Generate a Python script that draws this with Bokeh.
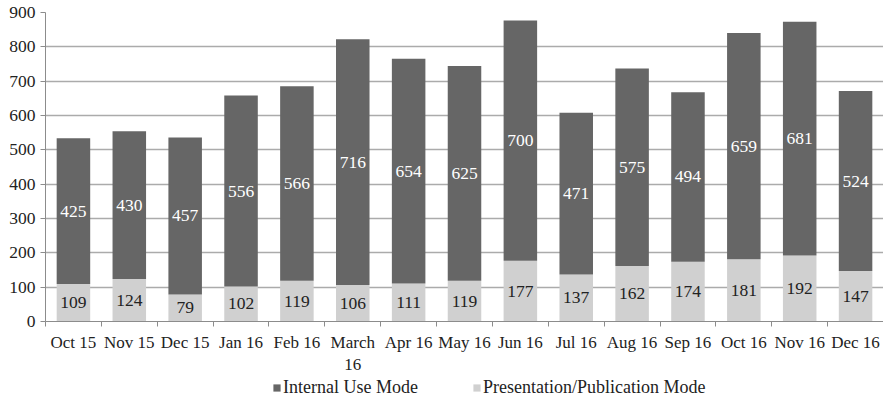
from bokeh.plotting import figure
from bokeh.layouts import column
from bokeh.models import ColumnDataSource, FixedTicker, Legend, LegendItem, LabelSet, Range1d
from bokeh.embed import file_html
from bokeh.resources import INLINE

categories = ["Oct 15", "Nov 15", "Dec 15", "Jan 16", "Feb 16", "March\n16", "Apr 16",
              "May 16", "Jun 16", "Jul 16", "Aug 16", "Sep 16", "Oct 16", "Nov 16", "Dec 16"]
presentation = [109, 124, 79, 102, 119, 106, 111, 119, 177, 137, 162, 174, 181, 192, 147]
internal = [425, 430, 457, 556, 566, 716, 654, 625, 700, 471, 575, 494, 659, 681, 524]
y_ticks = list(range(0, 1000, 100))
series_names = ["Internal Use Mode", "Presentation/Publication Mode"]

FONT = "Liberation Serif"
DARK = "#666666"
LIGHT = "#d0d0d0"

xs = list(range(len(categories)))
tops = [a + b for a, b in zip(presentation, internal)]
src = ColumnDataSource(dict(
    x=xs,
    pres=presentation,
    inter=internal,
    tops=tops,
    pres_mid=[v / 2 for v in presentation],
    inter_mid=[a + b / 2 for a, b in zip(presentation, internal)],
    pres_lbl=[str(v) for v in presentation],
    inter_lbl=[str(v) for v in internal],
))

p = figure(width=883, height=377, output_backend="svg", toolbar_location=None,
           x_range=Range1d(-0.5, len(categories) - 0.5), y_range=Range1d(0, 900),
           min_border_left=45, min_border_right=0, min_border_top=12, min_border_bottom=56)
p.outline_line_color = None
p.background_fill_color = "white"

r1 = p.vbar(x="x", bottom=0, top="pres", width=0.6, source=src, fill_color=LIGHT, line_color=None)
r2 = p.vbar(x="x", bottom="pres", top="tops", width=0.6, source=src, fill_color=DARK, line_color=None)

p.add_layout(LabelSet(x="x", y="inter_mid", text="inter_lbl", source=src, text_align="center",
                      text_baseline="middle", text_color="white", text_font=FONT,
                      text_font_size="17.5px"))
p.add_layout(LabelSet(x="x", y="pres_mid", text="pres_lbl", source=src, text_align="center",
                      text_baseline="middle", text_color="#222222", text_font=FONT,
                      text_font_size="17.5px"))

# axes
p.xaxis.ticker = FixedTicker(ticks=xs, minor_ticks=[i - 0.5 for i in range(len(categories) + 1)])
p.xaxis.major_label_overrides = {i: c for i, c in enumerate(categories)}
p.xaxis.major_tick_line_color = None
p.xaxis.minor_tick_line_color = "#8c8c8c"
p.xaxis.minor_tick_out = 5
p.xaxis.minor_tick_in = 0
p.xaxis.axis_line_color = "#8c8c8c"
p.xaxis.major_label_text_font = FONT
p.xaxis.major_label_text_font_size = "17px"
p.xaxis.major_label_text_color = "#222222"
p.xaxis.major_label_standoff = 5

p.yaxis.ticker = FixedTicker(ticks=y_ticks, minor_ticks=[])
p.yaxis.major_tick_line_color = "#8c8c8c"
p.yaxis.major_tick_out = 5
p.yaxis.major_tick_in = 0
p.yaxis.axis_line_color = "#8c8c8c"
p.yaxis.major_label_text_font = FONT
p.yaxis.major_label_text_font_size = "17.5px"
p.yaxis.major_label_text_color = "#222222"
p.yaxis.major_label_standoff = 5

p.xgrid.grid_line_color = None
p.ygrid.grid_line_color = "#ababab"
p.ygrid.grid_line_width = 1.5

# legend strip below the chart (swatch renderers hold a single zero-height bar outside the view)
lg = figure(width=883, height=24, output_backend="svg", toolbar_location=None,
            x_range=Range1d(0, 1), y_range=Range1d(0, 1),
            min_border_left=0, min_border_right=0, min_border_top=0, min_border_bottom=0)
lg.axis.visible = False
lg.grid.visible = False
lg.outline_line_color = None
swatch = ColumnDataSource(dict(x=[-5], top=[0]))
d_int = lg.vbar(x="x", top="top", width=0.1, source=swatch, fill_color=DARK, line_color=None)
d_pres = lg.vbar(x="x", top="top", width=0.1, source=swatch, fill_color=LIGHT, line_color=None)
legend = Legend(items=[LegendItem(label=series_names[0], renderers=[d_int]),
                       LegendItem(label=series_names[1], renderers=[d_pres])],
                orientation="horizontal", location=(227, 3),
                label_text_font=FONT, label_text_font_size="18px", label_text_color="#222222",
                glyph_width=9, glyph_height=9, label_standoff=2, spacing=54,
                border_line_color=None, background_fill_alpha=0, padding=0, margin=0)
lg.add_layout(legend, "center")

open("out.html", "w").write(file_html(column(p, lg), INLINE))
